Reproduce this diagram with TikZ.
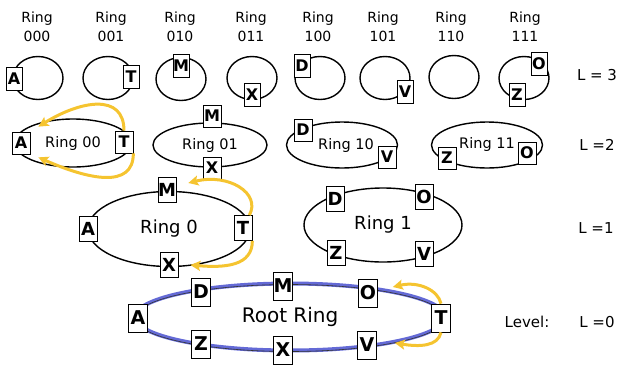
\documentclass[tikz,border=0pt]{standalone}
\usepackage{fontspec}
\setmainfont{DejaVu Sans}
\usetikzlibrary{shapes.geometric,arrows.meta,calc}
\definecolor{gold}{RGB}{245,196,48}
\definecolor{rootblue}{RGB}{100,106,214}

\begin{document}
\begin{tikzpicture}[x=1pt, y=-1pt,
  ring/.style={ellipse, draw=black, line width=1.4pt, inner sep=0pt, font=\fontsize{#1}{#1}\selectfont},
  ring/.default=14.5,
  box/.style={rectangle, draw=black, fill=white, inner sep=0pt, line width=0.7pt,
    font=\bfseries\fontsize{#1}{#1}\selectfont},
  box3/.style={box=16, minimum width=16pt, minimum height=23pt},
  box2/.style={box=16, minimum width=18pt, minimum height=22pt},
  box1/.style={box=18, minimum width=18pt, minimum height=25pt},
  box0/.style={box=19, minimum width=19pt, minimum height=28pt},
  title/.style={align=center, font=\fontsize{14}{19}\selectfont},
  lvl/.style={font=\fontsize{15}{17}\selectfont},
  move/.style={-{Stealth[length=10pt, width=10pt, inset=2pt]}, line width=3pt, gold}
]
\useasboundingbox (0,0) rectangle (619,365);

% level 3
\foreach \n/\x/\y in {000/38/78, 001/108/78, 010/181/79, 011/252/78,
                      100/320/78, 101/385/78, 110/454/77, 111/524/78} {
  \node[ring, minimum width=50pt, minimum height=43pt] (r\n) at (\x,\y) {};
}
\foreach \n/\x in {000/37, 001/111, 010/180, 011/251, 100/318, 101/383, 110/451, 111/525} {
  \node[title] (lb\n) at (\x,27) {Ring\\\n};
}
\node[box3] (a3) at (14,79)  {A};
\node[box3] (t3) at (131,77) {T};
\node[box3] (m3) at (181,66) {M};
\node[box3] (x3) at (252,95) {X};
\node[box3] (d3) at (302,66) {D};
\node[box3] (v3) at (405,92) {V};
\node[box3] (o3) at (539,64) {O};
\node[box3] (z3) at (517,95) {Z};

% level 2
\node[ring, minimum width=117pt, minimum height=48pt] (r00) at (73,143)  {Ring 00};
\node[ring, minimum width=114pt, minimum height=44pt] (r01) at (210,145) {Ring 01};
\node[ring, minimum width=111pt, minimum height=46pt] (r10) at (342,145) {\hspace{8pt}Ring 10};
\node[ring, minimum width=111pt, minimum height=46pt] (r11) at (487,145) {\raisebox{5pt}{Ring 11}};
\node[box2] (a2) at (21,143)  {A};
\node[box2] (t2) at (124,142) {T};
\node[box2] (m2) at (212,116) {M};
\node[box2] (x2) at (212,168) {X};
\node[box2] (d2) at (303,130) {D};
\node[box2] (v2) at (387,157) {V};
\node[box2] (z2) at (447,158) {Z};
\node[box2] (o2) at (527,153) {O};

% level 1
\node[ring=18, minimum width=162pt, minimum height=75pt] (r0) at (169,229) {Ring 0};
\node[ring=18, minimum width=158pt, minimum height=74pt] (r1) at (383,225) {Ring 1};
\node[box1] (a1) at (88,229)  {A};
\node[box1] (m1) at (167,190) {M};
\node[box1] (t1) at (243,228) {T};
\node[box1] (x1) at (169,265) {X};
\node[box1] (d1) at (335,199) {D};
\node[box1] (o1) at (424,197) {O};
\node[box1] (z1) at (336,253) {Z};
\node[box1] (v1) at (424,254) {V};

% level 0
\node[ring=20, draw=rootblue, line width=4pt, minimum width=310pt, minimum height=67pt] (root) at (290,317) {Root Ring};
\draw[line width=0.6pt, black!80] ($(root.center)+(0,1)$) ellipse [x radius=155pt, y radius=33.5pt];
\node[box0] (a0) at (138,318) {A};
\node[box0] (d0) at (201,292) {D};
\node[box0] (m0) at (283,286) {M};
\node[box0] (o0) at (368,293) {O};
\node[box0] (t0) at (441,318) {T};
\node[box0] (v0) at (367,345) {V};
\node[box0] (x0) at (283,350) {X};
\node[box0] (z0) at (201,344) {Z};

% moves of T
\draw[move] (t2.north) .. controls +(0,-38) and +(42,-26) .. ($(a2.north east)+(8,-5)$);
\draw[move] (t2.south east) .. controls +(0,36) and +(50,22) .. ($(a2.south east)+(8,3)$);
\draw[move] ($(t1.north east)+(-3,0)$) .. controls +(12,-22) and +(40,-10) .. ($(m1.east)+(12,-7)$);
\draw[move] (t1.south east) .. controls +(0,25) and +(35,3) .. ($(x1.east)+(12,0)$);
\draw[move] (t0.north) .. controls +(-3,-14) and +(25,-6) .. ($(o0.east)+(15,-6)$);
\draw[move] (t0.south) .. controls +(-3,14) and +(25,4) .. ($(v0.east)+(18,-2)$);

% levels
\node[lvl] (l3) at (597,75)  {L = 3};
\node[lvl] (l2) at (597,145) {L =2};
\node[lvl] (l1) at (596,228) {L =1};
\node[lvl] (l0) at (597,322) {L =0};
\node[lvl] (lv) at (527,322) {Level:};
\end{tikzpicture}
\end{document}
